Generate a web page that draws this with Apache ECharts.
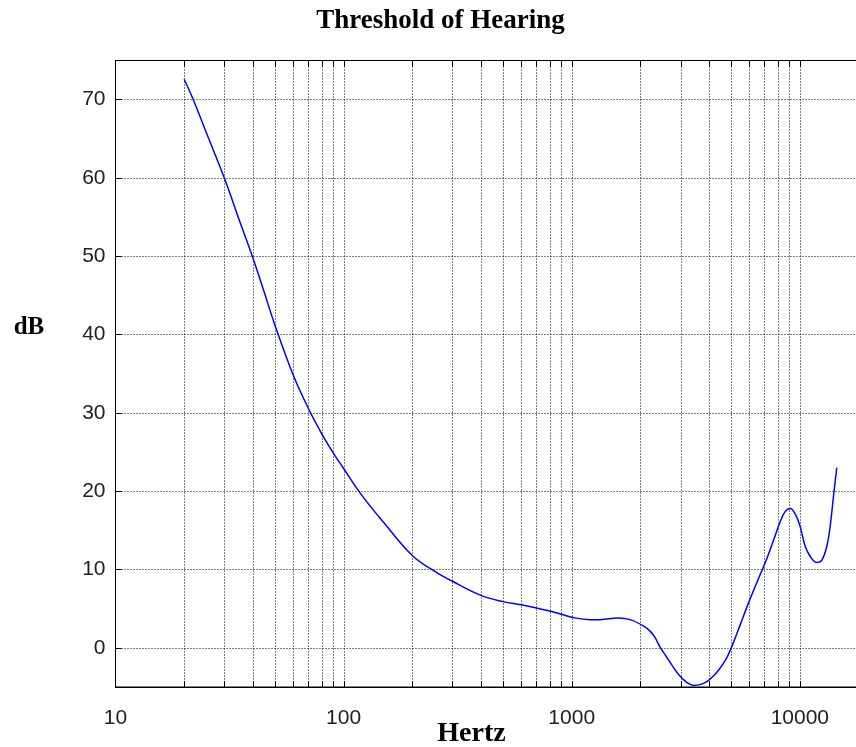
<!DOCTYPE html>
<html>
<head>
<meta charset="utf-8">
<script src="https://cdn.jsdelivr.net/npm/echarts@6/dist/echarts.min.js"></script>
<style>
html,body{margin:0;padding:0;background:#fff;}
#chart{width:856px;height:747px;}
</style>
</head>
<body>
<div id="chart"></div>
<script>
// Frequencies (Hz) along the threshold-of-hearing curve
const freqs = [20, 22, 25, 30, 35, 40, 45, 50, 60, 70, 80, 90, 100, 120, 150, 200, 250, 300,
  400, 500, 600, 700, 800, 900, 1000, 1200, 1330, 1600, 1800, 2060, 2210, 2320, 2440, 2610,
  2750, 2940, 3190, 3420, 3650, 3910, 4180, 4470, 4710, 4870, 5120, 5470, 5860, 6260, 6690,
  7170, 7660, 8200, 8620, 9070, 9540, 10030, 10550, 11090, 11880, 12490, 13140, 13580, 14040,
  14520];
// Threshold level (dB)
const levels = [72.6, 69.9, 65.8, 60.0, 54.5, 49.8, 45.3, 41.2, 34.9, 30.6, 27.4, 24.9, 22.9,
  19.5, 16.0, 11.8, 9.8, 8.5, 6.7, 5.9, 5.5, 5.1, 4.7, 4.3, 3.9, 3.6, 3.6, 3.8, 3.6, 2.8, 2.1,
  1.3, 0.1, -1.2, -2.2, -3.4, -4.4, -4.8, -4.7, -4.3, -3.6, -2.6, -1.6, -0.8, 0.7, 2.9, 5.2,
  7.3, 9.3, 11.4, 13.7, 16.1, 17.4, 17.8, 17.1, 15.5, 13.0, 11.7, 10.9, 11.2, 13.0, 15.5,
  19.3, 23.0];
// Vertical grid/tick positions on the log frequency axis
const gridFreqs = [20, 30, 40, 50, 60, 70, 80, 90, 100, 200, 300, 400, 500, 600, 700, 800, 900,
  1000, 2000, 3000, 4000, 5000, 6000, 7000, 8000, 9000, 10000];
const xTickLabels = [10, 100, 1000, 10000];
const yTickLabels = [0, 10, 20, 30, 40, 50, 60, 70];

const titleText = 'Threshold of Hearing';
const xName = 'Hertz';
const yName = 'dB';

const chart = echarts.init(document.getElementById('chart'), null, {renderer: 'canvas'});

const tickFont = '"Liberation Sans", Arial, sans-serif';
const serif = '"Liberation Serif", "Times New Roman", serif';

const option = {
  animation: false,
  backgroundColor: '#fff',
  grid: {
    left: 115.5, right: -12.5, top: 60.5, bottom: 60,
    outerBoundsMode: 'none',
    containLabel: false,
    show: true, borderColor: '#000', borderWidth: 1, backgroundColor: 'transparent'
  },
  xAxis: {
    type: 'log', logBase: 10, min: 10, max: 20000,
    axisLine: {show: true, onZero: false, lineStyle: {color: '#000', width: 1}},
    axisTick: {show: false},
    splitLine: {show: false},
    axisLabel: {
      margin: 21,
      color: '#222',
      fontFamily: tickFont,
      fontSize: 21,
      hideOverlap: false,
      formatter: function (v) {
        const r = Math.round(v);
        return xTickLabels.indexOf(r) >= 0 ? String(r) : '';
      }
    }
  },
  yAxis: {
    type: 'value', min: -5, max: 75, splitNumber: 8,
    axisLine: {show: true, lineStyle: {color: '#000', width: 1}},
    axisTick: {show: true, inside: true, length: 6, lineStyle: {color: '#000'}},
    splitLine: {show: true, lineStyle: {color: '#000', width: 1, type: [1, 2]}},
    axisLabel: {
      margin: 10,
      color: '#222',
      fontFamily: tickFont,
      fontSize: 21,
      formatter: function (v) {
        const r = Math.round(v);
        return yTickLabels.indexOf(r) >= 0 ? String(r) : '';
      }
    }
  },
  graphic: [
    {type: 'text', x: 440.5, y: 21.5, silent: true,
      style: {text: titleText, font: 'bold 27px ' + serif, fill: '#000', align: 'center', verticalAlign: 'middle'}},
    {type: 'text', x: 471.5, y: 734, silent: true,
      style: {text: xName, font: 'bold 28px ' + serif, fill: '#000', align: 'center', verticalAlign: 'middle'}},
    {type: 'text', x: 29, y: 328, silent: true,
      style: {text: yName, font: 'bold 25px ' + serif, fill: '#000', align: 'center', verticalAlign: 'middle'}}
  ],
  series: [
    {
      type: 'custom',
      silent: true,
      z: 1,
      clip: false,
      data: gridFreqs.map(function (f) { return [f, 0]; }),
      renderItem: function (params, api) {
        const cs = params.coordSys;
        const x = Math.round(api.coord([api.value(0), 0])[0]) + 0.5;
        const top = cs.y, bottom = cs.y + cs.height;
        return {
          type: 'group',
          children: [
            {type: 'line', shape: {x1: x, y1: top, x2: x, y2: bottom},
              style: {stroke: '#000', lineWidth: 1, lineDash: [1, 2]}},
            {type: 'line', shape: {x1: x, y1: bottom - 6, x2: x, y2: bottom},
              style: {stroke: '#000', lineWidth: 1}},
            {type: 'line', shape: {x1: x, y1: top, x2: x, y2: top + 6},
              style: {stroke: '#000', lineWidth: 1}}
          ]
        };
      }
    },
    {
      type: 'line',
      z: 3,
      data: freqs.map(function (f, i) { return [f, levels[i]]; }),
      showSymbol: false,
      smooth: 0.4,
      lineStyle: {color: '#0000ff', width: 1.5},
      itemStyle: {color: '#0000ff'}
    }
  ]
};
chart.setOption(option);
</script>
</body>
</html>
